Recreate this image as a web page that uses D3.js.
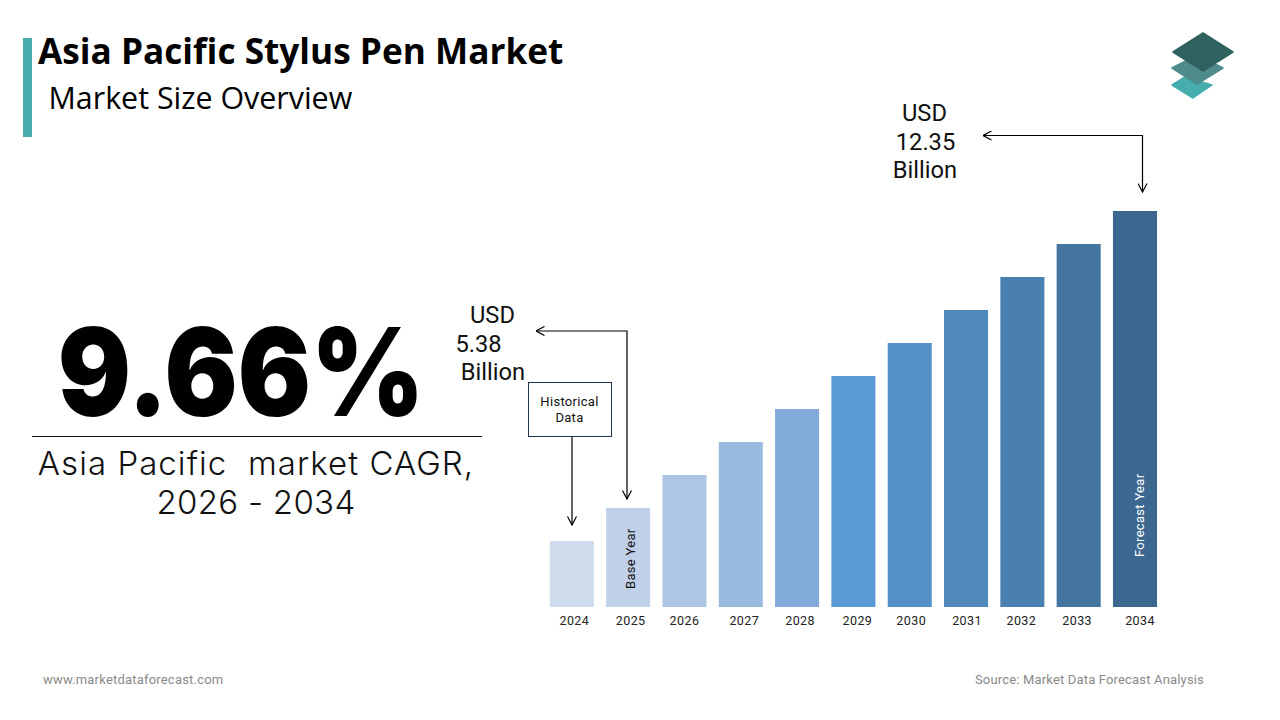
<!DOCTYPE html>
<html>
<head>
<meta charset="utf-8">
<script src="https://cdn.jsdelivr.net/npm/d3@7"></script>
<style>
  html, body { margin: 0; padding: 0; background: #fff; overflow: hidden; }
  text { font-family: Roboto, sans-serif; fill: #111; }
  .tick text { font-size: 12.5px; letter-spacing: .4px; fill: #222; }
</style>
</head>
<body>
<svg id="chart" width="1280" height="720"></svg>
<script>
// bars in the picture climb in even steps, so these are illustrative units, not USD
var years = [2024, 2025, 2026, 2027, 2028, 2029, 2030, 2031, 2032, 2033, 2034];
var barValues = [2, 3, 4, 5, 6, 7, 8, 9, 10, 11, 12];
var barColors = ["#cfdcee", "#bfd0e8", "#aec6e4", "#9abae0", "#82aadb", "#5b9bd5",
                 "#5591c8", "#5088bc", "#4a80b0", "#4474a0", "#3c6890"];
var baseValueLabel = ["USD", "5.38", "Billion"];
var forecastValueLabel = ["USD", "12.35", "Billion"];
var cagrLabel = ["Asia Pacific  market CAGR,", "2026 - 2034"];

var svg = d3.select("#chart");

var x = d3.scaleBand().domain(years).range([549.8, 1157]).paddingInner(0.218).paddingOuter(0);
var y = d3.scaleLinear().domain([0, 12]).range([607, 211]);

// tick labels sit slightly off the bar centres in the original
var tickNudge = [2.5, 2.5, 0, 3.5, 3, 4, 1.5, 1, -1, -1.5, 5];
var cagrSpacing = [1.05, 0.3];

svg.selectAll("rect.bar")
    .data(years)
    .enter().append("rect")
    .attr("class", "bar")
    .attr("x", function(d) { return x(d); })
    .attr("y", function(d, i) { return y(barValues[i]); })
    .attr("width", x.bandwidth())
    .attr("height", function(d, i) { return y(0) - y(barValues[i]); })
    .attr("fill", function(d, i) { return barColors[i]; });

var axis = svg.append("g")
    .attr("transform", "translate(0," + y(0) + ")")
    .call(d3.axisBottom(x).tickSize(0).tickPadding(9).tickFormat(d3.format("d")));
axis.select(".domain").remove();
axis.selectAll("text")
    .attr("dx", function(d, i) { return tickNudge[i]; });

// header
svg.append("rect").attr("x", 23).attr("y", 38).attr("width", 9).attr("height", 99).attr("fill", "#48acac");
svg.append("text").attr("x", 38).attr("y", 64)
    .style("font-family", "'Open Sans'").style("font-weight", 700).style("font-size", "35.2px")
    .style("fill", "#000")
    .text("Asia Pacific Stylus Pen Market");
svg.append("text").attr("x", 48.5).attr("y", 109)
    .style("font-family", "'Open Sans'").style("font-size", "30.4px")
    .style("fill", "#000")
    .text("Market Size Overview");

// logo
var logoLayers = [
    {pts: [[1172, 85], [1185, 77], [1212, 85], [1193, 98]], fill: "#46adad"},
    {pts: [[1172, 68], [1197, 55], [1223, 68], [1197, 84]], fill: "#4f8b8b"},
    {pts: [[1173, 52], [1203, 33], [1233, 52], [1203, 71]], fill: "#2f615f"}
];
svg.selectAll("polygon.logo")
    .data(logoLayers)
    .enter().append("polygon")
    .attr("class", "logo")
    .attr("points", function(d) { return d.pts.join(" "); })
    .attr("fill", function(d) { return d.fill; })
    .attr("stroke", function(d) { return d.fill; })
    .attr("stroke-width", 1.5)
    .attr("stroke-linejoin", "round");

// left panel, squeezed a bit since Inter runs wider than the original face
svg.append("text")
    .attr("transform", "translate(241,416) scale(0.89,1)")
    .attr("text-anchor", "middle")
    .style("font-family", "Inter").style("font-weight", 900).style("font-size", "122px")
    .style("fill", "#000")
    .text("9.66%");
svg.append("line").attr("x1", 32).attr("x2", 482).attr("y1", 436.5).attr("y2", 436.5)
    .attr("stroke", "#111").attr("stroke-width", 1);
svg.selectAll("text.cagr")
    .data(cagrLabel)
    .enter().append("text")
    .attr("class", "cagr")
    .attr("x", 256)
    .attr("y", function(d, i) { return 475 + i * 39; })
    .attr("text-anchor", "middle")
    .style("font-family", "Inter")
    .style("font-weight", 300)
    .style("font-size", "33px")
    .style("letter-spacing", function(d, i) { return cagrSpacing[i] + "px"; })
    .style("white-space", "pre")
    .text(function(d) { return d; });

// arrows
svg.append("defs").append("marker")
    .attr("id", "open")
    .attr("viewBox", "0 0 10 10")
    .attr("refX", 9.5).attr("refY", 5)
    .attr("markerWidth", 10).attr("markerHeight", 10)
    .attr("markerUnits", "userSpaceOnUse")
    .attr("orient", "auto-start-reverse")
    .append("path")
    .attr("d", "M1,0.5 L9.5,5 L1,9.5")
    .attr("fill", "none").attr("stroke", "#000").attr("stroke-width", 1.2);

var line = d3.line();
function arrow(pts, both) {
    var p = svg.append("path")
        .attr("d", line(pts))
        .attr("fill", "none")
        .attr("stroke", "#000")
        .attr("stroke-width", 1.2)
        .attr("marker-end", "url(#open)");
    if (both) p.attr("marker-start", "url(#open)");
}

arrow([[627, y(3) - 9], [627, 331], [536, 331]], true);
arrow([[572, 436], [572, y(2) - 16]], false);
arrow([[1142.5, y(12) - 19], [1142.5, 135.5], [983, 135.5]], true);

// historical data box
svg.append("rect").attr("x", 528.5).attr("y", 382.5).attr("width", 83).attr("height", 54)
    .attr("fill", "#fff").attr("stroke", "#1f3550").attr("stroke-width", 1);
svg.selectAll("text.hist")
    .data(["Historical", "Data"])
    .enter().append("text")
    .attr("class", "hist")
    .attr("x", 569.5)
    .attr("y", function(d, i) { return 406 + i * 16; })
    .attr("text-anchor", "middle")
    .style("font-size", "13px")
    .style("letter-spacing", ".3px")
    .text(function(d) { return d; });

// value callouts
function callout(lines, xs, y0) {
    svg.selectAll(null)
        .data(lines)
        .enter().append("text")
        .attr("x", function(d, i) { return xs[i]; })
        .attr("y", function(d, i) { return y0 + i * 28.5; })
        .attr("text-anchor", "middle")
        .style("font-size", "23.7px")
        .text(function(d) { return d; });
}
callout(baseValueLabel, [492.5, 478.5, 493], 323);
callout(forecastValueLabel, [924.5, 925.5, 925], 121);

// rotated labels inside the bars
function barLabel(txt, cx, cy, color) {
    svg.append("text")
        .attr("transform", "translate(" + cx + "," + cy + ") rotate(-90)")
        .style("font-size", "13px")
        .style("letter-spacing", ".3px")
        .style("fill", color)
        .text(txt);
}
barLabel("Base Year", 634.5, 589, "#111");
barLabel("Forecast Year", 1144, 557, "#fff");

// footer
svg.append("text").attr("x", 43).attr("y", 684)
    .style("font-size", "13px").style("letter-spacing", ".2px").style("fill", "#8a8a8a")
    .text("www.marketdataforecast.com");
svg.append("text").attr("x", 1204).attr("y", 684).attr("text-anchor", "end")
    .style("font-size", "13px").style("letter-spacing", ".17px").style("fill", "#8a8a8a")
    .text("Source: Market Data Forecast Analysis");
</script>
</body>
</html>
